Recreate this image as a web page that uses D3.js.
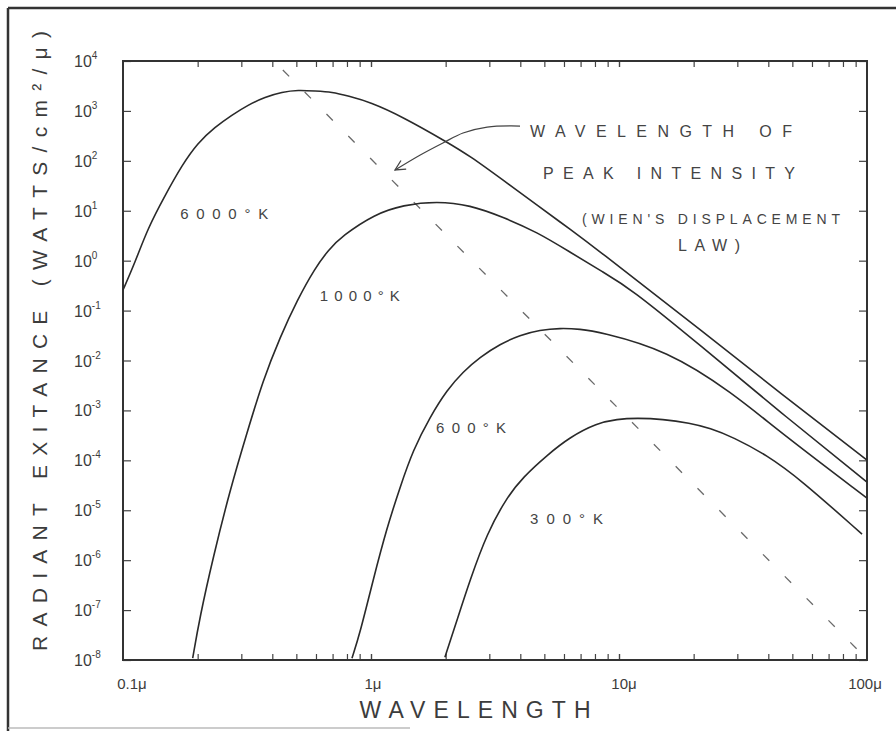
<!DOCTYPE html>
<html><head><meta charset="utf-8">
<script src="https://cdn.jsdelivr.net/npm/d3@7"></script>
<style>html,body{margin:0;padding:0;background:#fff;} svg{display:block;}</style>
</head><body>
<svg id="chart" width="896" height="731"></svg>
<script>
// ---- data (wavelength in microns, exitance W/cm^2/micron) ----
const wl6000 = [0.100,0.112,0.126,0.148,0.173,0.200,0.235,0.275,0.319,0.374,0.438,0.508,0.595,0.697,0.808,0.991,1.346,2.024,2.506,3.404,4.67,6.34,8.61,11.07,21.2,44.6,100];
const ex6000 = [0.258,0.94,4.5,20.6,82,228,476,828,1313,1900,2393,2625,2506,2393,1990,1507,755,238,125,41.2,13.0,4.30,1.36,0.514,0.0426,0.00222,1.01e-4];
const wl1000 = [0.191,0.204,0.231,0.270,0.316,0.367,0.430,0.504,0.595,0.673,0.764,1.037,1.346,1.845,2.506,3.404,4.67,6.34,8.61,11.07,21.2,44.6,100];
const ex1000 = [1.09e-8,7.2e-8,1.15e-6,2.53e-5,3.51e-4,4.04e-3,0.0294,0.162,0.711,1.63,3.11,8.59,13.0,15.6,13.0,7.48,3.74,1.49,0.591,0.283,0.0204,9.25e-4,3.66e-5];
const wl600 = [0.838,0.903,1.019,1.161,1.310,1.477,1.729,2.024,2.347,2.753,3.314,3.99,4.80,5.78,6.96,8.38,15.6,28.8,44.6,100];
const ex600 = [1.09e-8,3.44e-8,3.97e-7,4.58e-6,2.90e-5,1.60e-4,7.35e-4,2.55e-3,5.9e-3,0.0117,0.0213,0.0323,0.0407,0.0446,0.0426,0.0371,0.0161,2.22e-3,3.67e-4,1.75e-5];
const wl300 = [1.986,2.222,2.506,2.937,3.535,4.10,5.13,6.34,8.15,9.82,11.8,15.0,19.3,23.3,28.8,39.5,53.7,95.5];
const ex300 = [1.14e-8,6.28e-8,3.97e-7,3.48e-6,1.83e-5,4.60e-5,1.27e-4,2.92e-4,5.56e-4,6.70e-4,7.02e-4,6.70e-4,5.56e-4,4.42e-4,2.92e-4,1.27e-4,4.20e-5,3.32e-6];
const wienWl = [0.441, 92.0];
const wienEx = [6.6e3, 1.57e-8];
const arrowWl = [3.99, 2.94, 2.35, 1.95, 1.58, 1.25];
const arrowEx = [498, 475, 361, 228, 131, 65.5];
const seriesLabels = ["6000°K", "1000°K", "600°K", "300°K"];
const labelWl = [0.170, 0.622, 1.83, 4.38];
const labelEx = [6.8, 0.155, 3.5e-4, 5.3e-6];
const xTickValues = [0.1, 1, 10, 100];
const xTickLabels = ["0.1μ", "1μ", "10μ", "100μ"];
const yExponents = [4,3,2,1,0,-1,-2,-3,-4,-5,-6,-7,-8];
const annotationLines = ["WAVELENGTH    OF", "PEAK   INTENSITY", "(WIEN'S DISPLACEMENT", "LAW)"];
const xTitle = "WAVELENGTH";
const yTitle = "RADIANT EXITANCE (WATTS/cm²/μ)";

// ---- layout ----
const svg = d3.select("#chart");
const L = 123, R = 867, T = 61, B = 660;
const x = d3.scaleLog().domain([0.1, 100]).range([L, R]);
const y = d3.scaleLog().domain([1e-8, 1e4]).range([B, T]);
const ink = "#2a2a2a";
const textInk = "#3c3c3c";
const font = "'Liberation Sans', 'DejaVu Sans', sans-serif";

// outer scan frame
svg.append("line").attr("x1", 8).attr("y1", 8).attr("x2", 896).attr("y2", 8).attr("stroke", "#333").attr("stroke-width", 2.5);
svg.append("line").attr("x1", 8).attr("y1", 8).attr("x2", 8).attr("y2", 731).attr("stroke", "#333").attr("stroke-width", 2.5);
svg.append("line").attr("x1", 8).attr("y1", 728).attr("x2", 410).attr("y2", 728).attr("stroke", "#bbb").attr("stroke-width", 1.5);

// minor tick values
const minor = [];
[0.1, 1, 10].forEach(d => { for (let k = 1; k <= 10; k++) minor.push(d * k); });
const decades = yExponents.map(e => Math.pow(10, e));

const axG = svg.append("g");
axG.append("g").attr("transform", `translate(0,${T})`)
  .call(d3.axisBottom(x).tickValues(minor.slice(1, -1)).tickSize(6).tickFormat(""));
axG.append("g").attr("transform", `translate(0,${B})`)
  .call(d3.axisTop(x).tickValues(minor.slice(1, -1)).tickSize(6).tickFormat(""));
axG.append("g").attr("transform", `translate(${L},0)`)
  .call(d3.axisRight(y).tickValues(decades).tickSize(8).tickFormat(""));
axG.append("g").attr("transform", `translate(${R},0)`)
  .call(d3.axisLeft(y).tickValues(decades).tickSize(8).tickFormat(""));
axG.selectAll(".domain").remove();
axG.selectAll(".tick line").attr("stroke", "#444").attr("stroke-width", 1.2);

// plot frame
svg.append("rect").attr("x", L).attr("y", T).attr("width", R - L).attr("height", B - T)
  .attr("fill", "none").attr("stroke", "#333").attr("stroke-width", 2);

// y tick labels
const yl = svg.append("g").attr("font-family", font).attr("fill", textInk);
yExponents.forEach(e => {
  const t = yl.append("text").attr("x", 74).attr("y", y(Math.pow(10, e)) + 6).attr("font-size", 16);
  t.append("tspan").text("10");
  t.append("tspan").attr("dy", -8).attr("font-size", 10).text(String(e));
});

// x tick labels
const xoff = [9, 2, 5, -2];
xTickValues.forEach((v, i) => {
  svg.append("text").attr("x", x(v) + xoff[i]).attr("y", 689).attr("text-anchor", "middle")
    .attr("font-family", font).attr("font-size", 15).attr("fill", textInk).text(xTickLabels[i]);
});

// axis titles
svg.append("text").attr("x", 475).attr("y", 718).attr("text-anchor", "middle")
  .attr("font-family", font).attr("font-size", 23).attr("fill", textInk)
  .attr("textLength", 231).attr("lengthAdjust", "spacing").text(xTitle);
svg.append("text").attr("transform", "translate(47,341) rotate(-90)").attr("text-anchor", "middle")
  .attr("font-family", font).attr("font-size", 21).attr("fill", textInk)
  .attr("textLength", 620).attr("lengthAdjust", "spacing").text(yTitle);

// Wien dashed line
const wien = wienWl.map((w, i) => [w, wienEx[i]]);
svg.append("path").datum(wien)
  .attr("d", d3.line().x(d => x(d[0])).y(d => y(d[1])))
  .attr("fill", "none").attr("stroke", "#6a6a6a").attr("stroke-width", 1.3).attr("stroke-dasharray", "9,22");

// curves
const line = d3.line().x(d => x(d[0])).y(d => y(d[1])).curve(d3.curveBasis);
const series = [[wl6000, ex6000], [wl1000, ex1000], [wl600, ex600], [wl300, ex300]];
series.forEach(([wl, ex]) => {
  svg.append("path").datum(wl.map((w, i) => [w, ex[i]]))
    .attr("d", line).attr("fill", "none").attr("stroke", ink).attr("stroke-width", 1.6);
});

// series labels
seriesLabels.forEach((s, i) => {
  svg.append("text").attr("x", x(labelWl[i])).attr("y", y(labelEx[i]))
    .attr("font-family", font).attr("font-size", 15).attr("fill", "#444")
    .attr("textLength", [88, 80, 70, 73][i]).attr("lengthAdjust", "spacing").text(s);
});

// arrow
svg.append("defs").append("marker").attr("id", "ah").attr("viewBox", "0 0 12 12")
  .attr("refX", 11).attr("refY", 6).attr("markerWidth", 12).attr("markerHeight", 12)
  .attr("orient", "auto").attr("markerUnits", "userSpaceOnUse")
  .append("path").attr("d", "M1,1 L11,6 L1,11").attr("fill", "none").attr("stroke", "#444").attr("stroke-width", 1.3);
const arrowPts = arrowWl.map((w, i) => [w, arrowEx[i]]);
svg.append("path").datum(arrowPts)
  .attr("d", d3.line().x(d => x(d[0])).y(d => y(d[1])).curve(d3.curveCatmullRom.alpha(0.5)))
  .attr("fill", "none").attr("stroke", "#444").attr("stroke-width", 1.2).attr("marker-end", "url(#ah)");

// annotation text
const annX = [530, 543, 582, 678];
const annY = [137, 179, 224, 251];
const annW = [262, 252, 258, 62];
annotationLines.forEach((s, i) => {
  svg.append("text").attr("x", annX[i]).attr("y", annY[i])
    .attr("font-family", font).attr("font-size", i === 2 ? 14 : 16).attr("fill", "#444")
    .attr("textLength", annW[i]).attr("lengthAdjust", "spacing").text(s);
});
</script>
</body></html>
